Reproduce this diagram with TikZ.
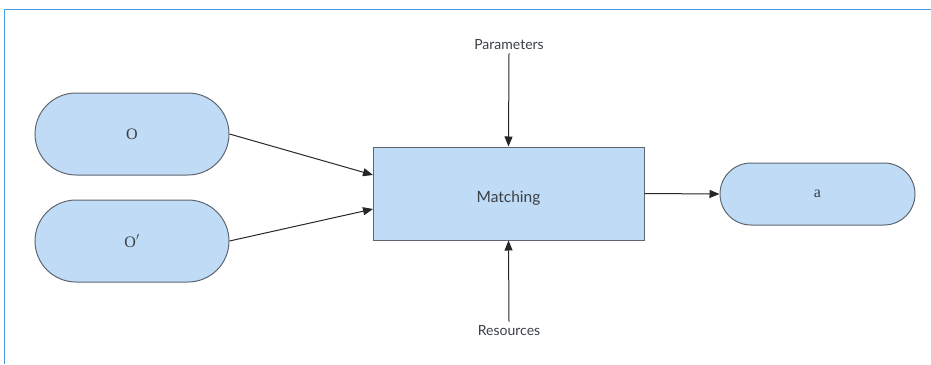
\documentclass[tikz,border=0pt]{standalone}
\usepackage{fontspec}
\setmainfont{Liberation Serif}
\newfontfamily\labelfont{Lato}
\usetikzlibrary{arrows.meta}
\definecolor{boxfill}{HTML}{BFDBF5}
\definecolor{boxline}{HTML}{5F6670}
\definecolor{framecol}{HTML}{4C9BE0}
\definecolor{txt}{HTML}{3A3F45}
\begin{document}
\begin{tikzpicture}[x=1pt,y=-1pt,
  pill/.style={draw=boxline,fill=boxfill,line width=1pt,rounded corners=#1,inner sep=0pt,text=txt,font=\fontsize{16}{18}\selectfont},
  proc/.style={draw=boxline,fill=boxfill,line width=1pt,inner sep=0pt,minimum width=271pt,minimum height=93pt,text=txt,font=\labelfont\fontsize{15.5}{17}\selectfont},
  lbl/.style={text=txt,font=\labelfont\fontsize{14}{16}\selectfont,inner sep=1pt},
  conn/.style={draw=black!85,line width=1pt,-{Triangle[length=10pt,width=8pt]}}]
\useasboundingbox (0,0) rectangle (931,364);
\draw[framecol,line width=1.5pt] (931,9.5) -- (4.5,9.5) -- (4.5,364);
\node[pill=41pt,minimum width=194pt,minimum height=82pt] (o) at (132,134) {O};
\node[pill=41pt,minimum width=194pt,minimum height=82pt] (op) at (132,241) {O$'$};
\node[proc] (m) at (508.5,193.5) {\raisebox{-9pt}[0pt][0pt]{Matching}};
\node[pill=31pt,minimum width=195pt,minimum height=62pt] (a) at (817.5,194) {a};
\node[lbl] (par) at (509,45) {Parameters};
\node[lbl] (res) at (509,331) {Resources};
\coordinate (min1) at (373,175);
\coordinate (min2) at (373,209);
\draw[conn] (o.east) -- (min1);
\draw[conn] (op.east) -- (min2);
\draw[conn] (m.east) -- (a.west);
\draw[conn] (par.south) ++(0,2) -- (m.north);
\draw[conn] (res.north) ++(0,-3) -- (m.south);
\end{tikzpicture}
\end{document}
